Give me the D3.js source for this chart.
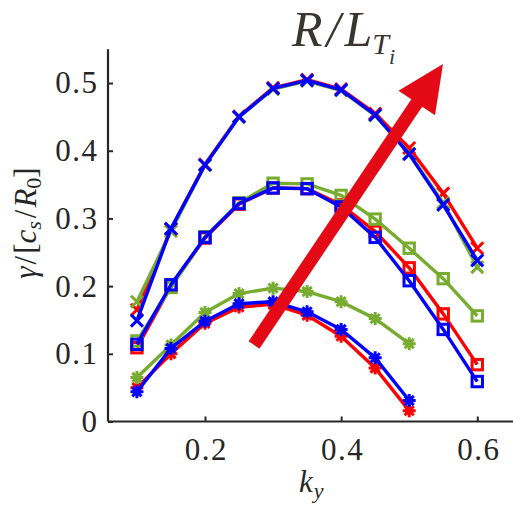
<!DOCTYPE html>
<html>
<head>
<meta charset="utf-8">
<script src="https://cdn.jsdelivr.net/npm/d3@7"></script>
<style>
  html, body { margin: 0; padding: 0; background: #fff; }
  svg { display: block; }
  text { font-family: "Liberation Serif", "Times New Roman", serif; fill: #262626; }
</style>
</head>
<body>
<svg id="chart" width="513" height="511"></svg>
<script>
// Growth rate vs binormal wavenumber, three gradient cases per marker family
const ky = [0.1, 0.15, 0.2, 0.25, 0.3, 0.35, 0.4, 0.45, 0.5, 0.55, 0.6];
const kyShort = [0.1, 0.15, 0.2, 0.25, 0.3, 0.35, 0.4, 0.45, 0.5];

// 'x' family
const crossRed   = [0.165, 0.284, 0.380, 0.451, 0.493, 0.505, 0.491, 0.455, 0.404, 0.337, 0.256];
const crossGreen = [0.177, 0.281, 0.379, 0.450, 0.491, 0.503, 0.489, 0.452, 0.396, 0.323, 0.228];
const crossBlue  = [0.149, 0.285, 0.379, 0.450, 0.492, 0.504, 0.490, 0.453, 0.395, 0.320, 0.238];

// square family
const squareRed   = [0.109, 0.200, 0.271, 0.321, 0.345, 0.344, 0.320, 0.281, 0.227, 0.159, 0.084];
const squareGreen = [0.119, 0.198, 0.273, 0.323, 0.352, 0.351, 0.334, 0.299, 0.256, 0.211, 0.156];
const squareBlue  = [0.114, 0.202, 0.272, 0.322, 0.345, 0.344, 0.317, 0.272, 0.208, 0.136, 0.059];

// asterisk family
const starRed   = [0.050, 0.100, 0.145, 0.169, 0.173, 0.157, 0.126, 0.079, 0.016];
const starGreen = [0.065, 0.113, 0.161, 0.189, 0.197, 0.192, 0.177, 0.152, 0.115];
const starBlue  = [0.044, 0.108, 0.148, 0.174, 0.177, 0.162, 0.136, 0.094, 0.031];

const xTicks = [0.2, 0.4, 0.6];
const yTicks = [0, 0.1, 0.2, 0.3, 0.4, 0.5];
const yTickLabels = ["0", "0.1", "0.2", "0.3", "0.4", "0.5"];
const xTickLabels = ["0.2", "0.4", "0.6"];

const colors = { red: "#ff0000", green: "#77ac30", blue: "#0000ff" };

const series = [
  { color: colors.red,   marker: "cross",  x: ky,      y: crossRed },
  { color: colors.red,   marker: "square", x: ky,      y: squareRed },
  { color: colors.red,   marker: "star",   x: kyShort, y: starRed },
  { color: colors.green, marker: "cross",  x: ky,      y: crossGreen },
  { color: colors.green, marker: "square", x: ky,      y: squareGreen },
  { color: colors.green, marker: "star",   x: kyShort, y: starGreen },
  { color: colors.blue,  marker: "cross",  x: ky,      y: crossBlue },
  { color: colors.blue,  marker: "square", x: ky,      y: squareBlue },
  { color: colors.blue,  marker: "star",   x: kyShort, y: starBlue }
];

const svg = d3.select("#chart");
const x = d3.scaleLinear().domain([0.0575, 0.6525]).range([108, 513]);
const y = d3.scaleLinear().domain([0, 0.55]).range([421.5, 49.2]);

const axisColor = "#262626";

// data lines and markers
const line = d3.line().x(d => x(d[0])).y(d => y(d[1]));
const lw = 3.4;

series.forEach(s => {
  const pts = s.x.map((k, i) => [k, s.y[i]]);
  const g = svg.append("g");
  g.append("path").datum(pts)
    .attr("d", line)
    .attr("fill", "none")
    .attr("stroke", s.color)
    .attr("stroke-width", lw)
    .attr("stroke-linejoin", "round");
  const m = g.selectAll("g.m").data(pts).enter().append("g")
    .attr("transform", d => `translate(${x(d[0])},${y(d[1])})`);
  if (s.marker === "square") {
    m.append("rect").attr("x", -5.2).attr("y", -5.2).attr("width", 10.4).attr("height", 10.4)
      .attr("fill", "none").attr("stroke", s.color).attr("stroke-width", 3);
  } else if (s.marker === "cross") {
    m.append("path").attr("d", "M-6,-6L6,6M-6,6L6,-6")
      .attr("stroke", s.color).attr("stroke-width", 3).attr("fill", "none");
  } else {
    m.append("path").attr("d", "M-6.5,0L6.5,0M0,-6.5L0,6.5M-4.6,-4.6L4.6,4.6M-4.6,4.6L4.6,-4.6")
      .attr("stroke", s.color).attr("stroke-width", 3).attr("fill", "none");
  }
});

// axes
const yAxis = d3.axisLeft(y).tickValues(yTicks).tickSize(-5).tickPadding(11)
  .tickFormat((d, i) => yTickLabels[i]);
const gy = svg.append("g").attr("transform", "translate(108,0)").call(yAxis);
const xAxis = d3.axisBottom(x).tickValues(xTicks).tickSize(-5).tickPadding(16)
  .tickFormat((d, i) => xTickLabels[i]);
const gx = svg.append("g").attr("transform", "translate(0,421.5)").call(xAxis);

[gx, gy].forEach(g => {
  g.select(".domain").attr("stroke", axisColor).attr("stroke-width", 2.2);
  g.selectAll(".tick line").attr("stroke", axisColor).attr("stroke-width", 2);
  g.selectAll(".tick text").attr("font-size", 31).attr("fill", axisColor)
    .style("font-family", "'Liberation Serif', serif")
    .style("letter-spacing", "1.5px");
});
gy.select(".domain").attr("d", `M0,${y(0.55)}V${y(0)}`);
gx.select(".domain").attr("d", `M108,0H513`);
gx.selectAll(".tick text").attr("dy", "0.71em").attr("dx", 1);
gy.selectAll(".tick text").attr("dx", 1.5);

// axis titles
svg.append("text")
  .attr("x", 299).attr("y", 492)
  .attr("font-size", 31).attr("font-style", "italic")
  .html('k<tspan font-size="22" dy="6" dx="1">y</tspan>');

svg.append("text")
  .attr("transform", "translate(36,223) rotate(-90)")
  .attr("text-anchor", "middle")
  .attr("font-size", 31)
  .html('<tspan font-style="italic">γ</tspan><tspan dx="2">/</tspan><tspan dx="2">[</tspan><tspan font-style="italic">c</tspan><tspan font-size="22" dy="5" font-style="italic">s</tspan><tspan dy="-5" dx="3">/</tspan><tspan font-style="italic" dx="2">R</tspan><tspan font-size="22" dy="5">0</tspan><tspan dy="-5">]</tspan>');

// gradient annotation and arrow
svg.append("text")
  .attr("x", 292).attr("y", 46)
  .attr("font-size", 50).attr("font-style", "italic")
  .style("fill", "#3a3532")
  .html('R<tspan dx="4">/</tspan><tspan dx="4">L</tspan><tspan font-size="30" dy="8">T</tspan><tspan font-size="22" dy="10">i</tspan>');

const arrowColor = "#e30a16";
const tail = [254, 345], tip = [443, 64];
const ang = Math.atan2(tip[1] - tail[1], tip[0] - tail[0]);
const headLen = 47, headHalf = 22, shaftHalf = 6.5;
const ux = Math.cos(ang), uy = Math.sin(ang), nx = -uy, ny = ux;
const bx = tip[0] - ux * headLen, by = tip[1] - uy * headLen;
const arrowPts = [
  [tail[0] + nx * shaftHalf, tail[1] + ny * shaftHalf],
  [bx + nx * shaftHalf, by + ny * shaftHalf],
  [bx + nx * headHalf, by + ny * headHalf],
  tip,
  [bx - nx * headHalf, by - ny * headHalf],
  [bx - nx * shaftHalf, by - ny * shaftHalf],
  [tail[0] - nx * shaftHalf, tail[1] - ny * shaftHalf]
];
svg.append("path")
  .attr("d", d3.line()(arrowPts) + "Z")
  .attr("fill", arrowColor);
</script>
</body>
</html>
